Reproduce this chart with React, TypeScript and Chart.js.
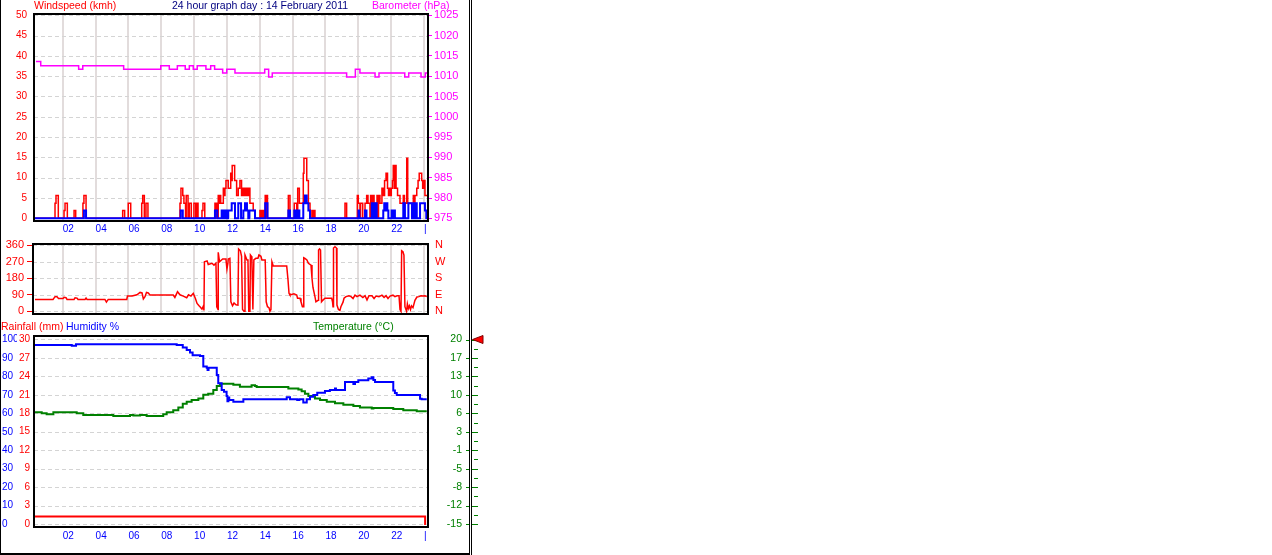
import React, { useEffect, useRef } from "react";
import { Chart, registerables } from "chart.js";

Chart.register(...registerables);

const FONT = '"Liberation Sans", Arial, sans-serif';
const RED = "#ff0000";
const BLUE = "#0000ff";
const MAGENTA = "#ff00ff";
const GREEN = "#008000";
const NAVY = "#000080";

// ---------------- tick labels ----------------
const HOUR_TICKS = [2, 4, 6, 8, 10, 12, 14, 16, 18, 20, 22, 24];
const HOUR_LABELS = ["02", "04", "06", "08", "10", "12", "14", "16", "18", "20", "22", "|"];
const WIND_TICKS = [0, 5, 10, 15, 20, 25, 30, 35, 40, 45, 50];
const BARO_TICKS = [975, 980, 985, 990, 995, 1000, 1005, 1010, 1015, 1020, 1025];
const DIR_TICKS = [0, 90, 180, 270, 360];
const DIR_LABELS = ["N", "E", "S", "W", "N"];
const HUM_TICKS = [0, 10, 20, 30, 40, 50, 60, 70, 80, 90, 100];
const RAIN_TICKS = [0, 3, 6, 9, 12, 15, 18, 21, 24, 27, 30];
const TEMP_TICKS = [-15, -11.5, -8, -4.5, -1, 2.5, 6, 9.5, 13, 16.5, 20];
const TEMP_LABELS = ["-15", "-12", "-8", "-5", "-1", "3", "6", "10", "13", "17", "20"];
const TEMP_MARKER = 20;

// ---------------- series (hour of day, value) ----------------
const windGust: number[][] = [
  [0.25, 0], [1.53, 3.7], [1.59, 5.6], [1.73, 0], [2.08, 1.9], [2.14, 3.7], [2.28, 0],
  [2.69, 1.9], [2.79, 0], [3.23, 3.7], [3.29, 5.6], [3.42, 0], [5.65, 1.9], [5.77, 0],
  [5.99, 3.7], [6.14, 0], [6.81, 3.7], [6.87, 5.6], [6.97, 0], [7.07, 3.7], [7.19, 0],
  [9.14, 3.7], [9.2, 7.4], [9.31, 5.6], [9.38, 3.7], [9.48, 0], [9.52, 5.6], [9.63, 0],
  [9.71, 3.7], [9.83, 0], [9.99, 3.7], [10.1, 0], [10.15, 3.7], [10.24, 0],
  [10.48, 1.9], [10.54, 3.7], [10.65, 0],
  [11.27, 3.7], [11.33, 0], [11.36, 3.7], [11.41, 0], [11.47, 5.6], [11.53, 3.7], [11.58, 5.6],
  [11.62, 3.7], [11.78, 7.4], [11.84, 5.6], [11.88, 7.4], [11.94, 9.3], [12.08, 7.4],
  [12.23, 11.1], [12.29, 9.3], [12.32, 13.0], [12.47, 9.3], [12.59, 5.6], [12.69, 7.4],
  [12.79, 9.3], [12.89, 5.6], [12.96, 7.4], [13.01, 5.6], [13.06, 7.4], [13.11, 5.6],
  [13.16, 7.4], [13.21, 5.6], [13.26, 7.4], [13.31, 5.6], [13.36, 7.4], [13.4, 3.7],
  [13.6, 1.9], [13.71, 0],
  [14.01, 1.9], [14.07, 0], [14.11, 1.9], [14.17, 0], [14.21, 1.9], [14.27, 0],
  [14.33, 5.6], [14.39, 0], [14.43, 5.6], [14.47, 0],
  [15.74, 5.6], [15.84, 0], [16.1, 3.7], [16.25, 0], [16.31, 7.4], [16.41, 3.7],
  [16.65, 11.1], [16.69, 14.8], [16.86, 9.3], [16.96, 3.7], [17.06, 1.9], [17.12, 0],
  [17.22, 1.9], [17.28, 0], [17.31, 1.9], [17.36, 0],
  [19.19, 3.7], [19.29, 0], [19.94, 5.6], [20.0, 3.7], [20.1, 0], [20.14, 3.7], [20.27, 0],
  [20.41, 3.7], [20.51, 5.6], [20.59, 3.7], [20.71, 0], [20.75, 5.6], [20.82, 3.7],
  [20.88, 5.6], [20.96, 0], [21.0, 3.7], [21.12, 0], [21.14, 5.6], [21.2, 0], [21.23, 5.6],
  [21.32, 3.7], [21.44, 7.4], [21.52, 5.6], [21.6, 9.3], [21.69, 11.1], [21.78, 7.4],
  [21.84, 5.6], [21.89, 7.4], [21.95, 5.6], [22.01, 7.4], [22.08, 9.3], [22.13, 13.0],
  [22.19, 7.4], [22.25, 13.0], [22.3, 7.4], [22.39, 5.6], [22.54, 3.7], [22.74, 5.6],
  [22.81, 3.7], [22.95, 14.8], [23.01, 3.7], [23.35, 5.6], [23.41, 3.7], [23.45, 5.6],
  [23.56, 7.4], [23.64, 9.3], [23.71, 11.1], [23.86, 9.3], [23.92, 7.4], [23.98, 9.3],
  [24.06, 5.6], [24.19, 5.6],
];

const windAverage: number[][] = [
  [0.25, 0], [3.29, 1.9], [3.42, 0], [9.18, 1.9], [9.31, 0], [11.27, 1.9], [11.41, 0],
  [11.68, 1.9], [11.78, 0], [11.88, 1.9], [11.98, 0], [12.08, 1.9], [12.29, 3.7], [12.49, 0],
  [12.69, 3.7], [12.86, 0], [13.0, 1.9], [13.1, 3.7], [13.22, 1.9], [13.3, 0], [13.37, 1.9],
  [13.71, 0], [14.33, 3.7], [14.47, 0], [15.74, 1.9], [15.84, 0], [16.1, 1.9], [16.2, 0],
  [16.31, 1.9], [16.41, 0], [16.65, 3.7], [16.75, 5.6], [16.86, 3.7], [16.96, 1.9], [17.06, 0],
  [20.01, 1.9], [20.06, 0], [20.41, 1.9], [20.5, 0], [20.82, 3.7], [20.92, 0], [21.02, 3.7],
  [21.12, 0], [21.52, 1.9], [21.58, 3.7], [21.64, 1.9], [21.71, 3.7], [21.77, 1.9], [21.83, 0],
  [22.03, 1.9], [22.13, 0], [22.16, 1.9], [22.23, 0], [22.74, 3.7], [22.84, 0], [23.05, 3.7],
  [23.27, 0], [23.35, 3.7], [23.41, 0], [23.45, 3.7], [23.56, 0], [23.76, 3.7], [24.06, 1.9],
  [24.14, 0], [24.19, 0],
];

const barometer: number[][] = [
  [0.37, 1013.6], [0.66, 1012.6], [2.97, 1011.7], [3.22, 1012.6], [5.71, 1011.7], [7.97, 1012.6],
  [8.49, 1011.7], [8.98, 1012.6], [9.46, 1011.7], [9.71, 1012.6], [9.95, 1011.7], [10.19, 1012.6],
  [10.72, 1011.7], [11.01, 1012.6], [11.25, 1011.7], [11.74, 1010.8], [11.99, 1011.7],
  [12.49, 1010.8], [14.3, 1011.7], [14.54, 1009.8], [14.76, 1010.8], [19.29, 1009.8],
  [19.82, 1011.7], [20.1, 1010.8], [21.02, 1009.8], [21.26, 1010.8], [22.83, 1009.8],
  [23.07, 1010.8], [23.82, 1009.8], [24.08, 1010.8], [24.19, 1010.8],
];

const windDirection: number[][] = [
  [0.31, 65], [1.41, 65], [1.53, 80], [1.65, 80], [1.74, 70], [2.02, 70], [2.08, 76], [2.2, 74],
  [2.26, 65], [2.69, 65], [2.75, 74], [2.87, 72], [2.93, 65], [3.36, 65], [3.42, 72], [3.48, 65],
  [4.57, 65], [4.66, 50], [4.77, 65], [5.9, 65], [5.94, 83], [6.22, 83], [6.52, 90], [6.71, 103],
  [6.83, 100], [6.91, 67], [7.01, 80], [7.1, 103], [7.21, 100], [7.31, 89], [8.73, 89], [8.83, 76],
  [8.99, 107], [9.14, 90], [9.34, 83], [9.55, 74], [9.66, 90], [9.81, 83], [9.95, 98], [10.08, 70],
  [10.18, 43], [10.3, 30], [10.36, 25], [10.48, 12], [10.57, 30], [10.6, 5], [10.63, 270],
  [10.79, 275], [10.86, 255], [11.09, 262], [11.21, 252], [11.33, 262], [11.38, 25], [11.46, 10],
  [11.47, 322], [11.55, 270], [11.74, 285], [11.94, 285], [12.0, 230], [12.06, 262], [12.08, 285],
  [12.18, 289], [12.24, 52], [12.34, 30], [12.43, 45], [12.55, 35], [12.67, 34], [12.71, 340],
  [12.82, 330], [12.89, 300], [12.95, 10], [13.04, 0], [13.1, 307], [13.22, 280], [13.28, 280],
  [13.33, 0], [13.4, 0], [13.43, 307], [13.49, 300], [13.52, 280], [13.58, 10], [13.64, 280],
  [13.76, 289], [13.89, 289], [13.95, 307], [14.07, 300], [14.13, 280], [14.33, 280], [14.39, 52],
  [14.47, 25], [14.56, 20], [14.62, 0], [14.68, 10], [14.74, 270], [14.82, 247], [15.64, 247],
  [15.72, 171], [15.78, 98], [15.84, 89], [16.08, 95], [16.25, 89], [16.3, 71], [16.45, 71],
  [16.51, 52], [16.6, 25], [16.65, 25], [16.68, 292], [16.75, 289], [16.87, 280], [16.96, 262],
  [17.12, 252], [17.18, 180], [17.24, 130], [17.36, 80], [17.42, 52], [17.55, 60], [17.58, 334],
  [17.64, 340], [17.7, 334], [17.76, 52], [17.85, 61], [17.97, 71], [18.38, 71], [18.43, 52],
  [18.46, 25], [18.49, 345], [18.58, 352], [18.67, 345], [18.7, 34], [18.79, 10], [18.88, 5],
  [18.94, 25], [19.07, 50], [19.13, 71], [19.25, 80], [19.43, 85], [19.56, 80], [19.68, 70],
  [19.8, 88], [19.92, 80], [20.1, 88], [20.28, 75], [20.41, 85], [20.53, 62], [20.65, 85],
  [20.83, 85], [20.96, 70], [21.08, 83], [21.26, 80], [21.44, 88], [21.57, 75], [21.69, 85],
  [21.81, 70], [21.93, 83], [22.11, 88], [22.23, 80], [22.36, 85], [22.48, 85], [22.54, 10],
  [22.6, 0], [22.64, 330], [22.72, 325], [22.78, 307], [22.84, 25], [22.94, 0], [22.99, 40],
  [23.05, 15], [23.11, 30], [23.18, 10], [23.24, 30], [23.33, 20], [23.45, 60], [23.57, 78],
  [23.69, 80], [23.82, 85], [23.94, 83], [24.06, 85], [24.17, 80],
];

const humidity: number[][] = [
  [0.31, 97.0], [2.55, 96.6], [2.81, 97.4], [8.94, 97.0], [9.31, 95.6], [9.55, 94.3], [9.75, 92.9],
  [9.91, 91.4], [10.36, 91.0], [10.56, 85.3], [10.77, 84.7], [10.82, 83.5], [10.88, 84.7],
  [11.38, 80.8], [11.47, 76.3], [11.68, 72.6], [11.82, 71.7], [11.98, 69.4], [12.03, 66.5],
  [12.09, 68.5], [12.14, 67.2], [12.39, 66.3], [13.0, 67.6], [15.64, 68.7], [15.84, 67.6],
  [16.28, 67.2], [16.41, 67.6], [16.65, 65.8], [16.86, 67.6], [17.06, 69.0], [17.26, 69.9],
  [17.5, 71.2], [17.97, 72.1], [18.27, 72.6], [18.58, 73.5], [18.64, 72.6], [19.19, 77.0],
  [19.7, 75.9], [19.8, 77.0], [20.0, 77.9], [20.61, 78.8], [20.82, 79.5], [20.92, 78.0],
  [21.02, 77.0], [22.13, 72.3], [22.23, 71.0], [22.34, 69.9], [23.76, 67.9], [23.86, 67.6],
  [24.17, 67.6],
];

const temperature: number[][] = [
  [0.31, 6.2], [0.72, 6.0], [1.02, 5.8], [1.43, 6.2], [2.85, 6.0], [3.25, 5.7], [5.08, 5.5],
  [6.1, 5.7], [6.3, 5.6], [6.71, 5.7], [7.11, 5.5], [8.12, 5.8], [8.33, 6.2], [8.73, 6.6],
  [9.04, 7.1], [9.31, 7.8], [9.55, 8.2], [9.85, 8.5], [10.26, 8.8], [10.56, 9.5], [10.86, 9.7],
  [11.17, 10.4], [11.38, 11.2], [11.58, 11.6], [12.39, 11.4], [12.79, 11.05], [13.5, 11.3],
  [13.71, 11.2], [13.81, 11.0], [15.74, 10.7], [16.35, 10.5], [16.55, 10.2], [16.75, 9.7],
  [16.96, 9.3], [17.36, 8.8], [17.67, 8.5], [18.08, 8.2], [18.58, 7.9], [19.09, 7.6],
  [19.7, 7.4], [20.1, 7.1], [20.82, 6.9], [20.92, 7.0], [22.13, 6.8], [22.74, 6.6],
  [23.56, 6.4], [24.17, 6.4],
];

const rainfall: number[][] = [
  [0.31, 1.2], [24.07, 0], [24.12, 0],
];

// ---------------- helpers ----------------
const toPoints = (rows: number[][]) => rows.map(([x, y]) => ({ x, y }));
const fixedTicks = (values: number[]) => (axis: any) => {
  axis.ticks = values.map((value) => ({ value }));
};
const clearPadding = (s: any) => {
  s.paddingTop = 0;
  s.paddingBottom = 0;
  s.paddingLeft = 0;
  s.paddingRight = 0;
};

function xAxis(min: number, max: number, display: boolean, height: number, padding: number) {
  return {
    type: "linear",
    position: "bottom",
    display,
    min,
    max,
    bounds: "data",
    afterBuildTicks: fixedTicks(HOUR_TICKS),
    afterFit: (s: any) => {
      s.height = height;
      clearPadding(s);
    },
    ticks: {
      color: BLUE,
      font: { family: FONT, size: 10 },
      padding,
      align: "start",
      autoSkip: false,
      maxRotation: 0,
      minRotation: 0,
      callback: (_v: any, i: number) => HOUR_LABELS[i],
    },
    grid: { display: false, drawTicks: false },
    border: { display: false },
  };
}

function yAxis(o: {
  position: string;
  min: number;
  max: number;
  ticks: number[];
  labels?: string[];
  color: string;
  size: number;
  width: number;
  padding: number;
  crossAlign?: string;
  tickLength?: number;
  weight?: number;
}) {
  return {
    type: "linear",
    position: o.position,
    min: o.min,
    max: o.max,
    bounds: "data",
    weight: o.weight ?? 0,
    afterBuildTicks: fixedTicks(o.ticks),
    afterFit: (s: any) => {
      s.width = o.width;
      clearPadding(s);
    },
    ticks: {
      color: o.color,
      font: { family: FONT, size: o.size },
      padding: o.padding,
      crossAlign: o.crossAlign ?? "near",
      autoSkip: false,
      callback: (v: any, i: number) => (o.labels ? o.labels[i] : String(v)),
    },
    grid: o.tickLength
      ? {
          display: true,
          drawOnChartArea: false,
          drawTicks: true,
          tickLength: o.tickLength,
          color: o.color,
          tickColor: o.color,
          lineWidth: 1,
        }
      : { display: false, drawTicks: false },
    border: { display: false },
  };
}

interface PanelText {
  text: string;
  x: number;
  y: number;
  color: string;
}

function panelPlugin(
  yId: string,
  yTicks: number[],
  vertical: boolean,
  texts: PanelText[],
  extra?: (chart: any) => void
) {
  return {
    id: "panel-" + yId,
    beforeDatasetsDraw(chart: any) {
      const { ctx, chartArea: a } = chart;
      const xs = chart.scales.x;
      const ys = chart.scales[yId];
      ctx.save();
      if (vertical) {
        ctx.strokeStyle = "#e2dcdc";
        ctx.lineWidth = 2;
        for (const h of HOUR_TICKS) {
          const x = Math.round(xs.getPixelForValue(h));
          ctx.beginPath();
          ctx.moveTo(x, a.top);
          ctx.lineTo(x, a.bottom);
          ctx.stroke();
        }
      }
      ctx.strokeStyle = "#d4d4d4";
      ctx.lineWidth = 1;
      ctx.setLineDash([4, 3]);
      for (const v of yTicks) {
        const y = Math.round(ys.getPixelForValue(v)) + 0.5;
        ctx.beginPath();
        ctx.moveTo(a.left, y);
        ctx.lineTo(a.right, y);
        ctx.stroke();
      }
      ctx.restore();
    },
    afterDatasetsDraw(chart: any) {
      const { ctx, chartArea: a } = chart;
      ctx.save();
      ctx.strokeStyle = "#000";
      ctx.lineWidth = 2;
      ctx.strokeRect(a.left, a.top, a.right - a.left, a.bottom - a.top);
      ctx.restore();
    },
    afterDraw(chart: any) {
      const ctx = chart.ctx;
      ctx.save();
      ctx.font = `10.5px ${FONT}`;
      ctx.textBaseline = "middle";
      ctx.textAlign = "left";
      for (const t of texts) {
        ctx.fillStyle = t.color;
        ctx.fillText(t.text, t.x, t.y);
      }
      ctx.restore();
      if (extra) extra(chart);
    },
  };
}

const baseOptions = {
  animation: false,
  responsive: false,
  maintainAspectRatio: false,
  devicePixelRatio: 1,
  events: [],
  plugins: { legend: { display: false }, tooltip: { enabled: false }, title: { display: false } },
  elements: { point: { radius: 0 }, line: { tension: 0 } },
};

function topConfig(): any {
  return {
    type: "line",
    data: {
      datasets: [
        {
          label: "Average windspeed",
          data: toPoints(windAverage),
          yAxisID: "yWind",
          borderColor: BLUE,
          borderWidth: 2,
          stepped: true,
          pointRadius: 0,
          fill: false,
        },
        {
          label: "Gust",
          data: toPoints(windGust),
          yAxisID: "yWind",
          borderColor: RED,
          borderWidth: 1.5,
          stepped: true,
          pointRadius: 0,
          fill: false,
        },
        {
          label: "Barometer",
          data: toPoints(barometer),
          yAxisID: "yBaro",
          borderColor: MAGENTA,
          borderWidth: 1.5,
          stepped: true,
          pointRadius: 0,
          fill: false,
        },
      ],
    },
    options: {
      ...baseOptions,
      layout: { padding: { top: 14, left: 0, right: 0, bottom: 0 } },
      scales: {
        x: xAxis(0.25, 24.245, true, 15, 2),
        yWind: yAxis({
          position: "left", min: -0.665, max: 50.32, ticks: WIND_TICKS, color: RED,
          size: 10, width: 34, padding: 7,
        }),
        yBaro: yAxis({
          position: "right", min: 974.335, max: 1025.32, ticks: BARO_TICKS, color: MAGENTA,
          size: 11, width: 38, padding: 2, tickLength: 4,
        }),
      },
    },
    plugins: [
      panelPlugin("yWind", WIND_TICKS, true, [
        { text: "Windspeed (kmh)", x: 34, y: 6.5, color: RED },
        { text: "24 hour graph day : 14 February 2011", x: 172, y: 6.5, color: NAVY },
        { text: "Barometer (hPa)", x: 372, y: 6.5, color: MAGENTA },
      ]),
    ],
  };
}

function midConfig(): any {
  return {
    type: "line",
    data: {
      datasets: [
        {
          label: "Wind direction",
          data: toPoints(windDirection),
          yAxisID: "yDir",
          borderColor: RED,
          borderWidth: 1.5,
          pointRadius: 0,
          fill: false,
        },
      ],
    },
    options: {
      ...baseOptions,
      layout: { padding: { top: 8, left: 0, right: 0, bottom: 6 } },
      scales: {
        x: xAxis(0.189, 24.245, false, 0, 0),
        yDir: yAxis({
          position: "left", min: -14.7, max: 367.1, ticks: DIR_TICKS, color: RED,
          size: 11, width: 33, padding: 3, tickLength: 6,
        }),
        yCompass: yAxis({
          position: "right", min: -14.7, max: 367.1, ticks: DIR_TICKS, labels: DIR_LABELS,
          color: RED, size: 11, width: 38, padding: 7,
        }),
      },
    },
    plugins: [panelPlugin("yDir", DIR_TICKS, true, [])],
  };
}

const tempDecor = (chart: any) => {
  const s = chart.scales.yTemp;
  const ctx = chart.ctx;
  ctx.save();
  ctx.strokeStyle = GREEN;
  ctx.lineWidth = 1;
  TEMP_TICKS.forEach((v, i) => {
    const y = Math.round(s.getPixelForValue(v)) + 0.5;
    ctx.beginPath();
    ctx.moveTo(466, y);
    ctx.lineTo(469, y);
    ctx.moveTo(472, y);
    ctx.lineTo(478, y);
    ctx.stroke();
    if (i < TEMP_TICKS.length - 1) {
      const ym = Math.round(s.getPixelForValue((v + TEMP_TICKS[i + 1]) / 2)) + 0.5;
      ctx.beginPath();
      ctx.moveTo(474, ym);
      ctx.lineTo(478, ym);
      ctx.stroke();
    }
  });
  const yt = s.getPixelForValue(TEMP_MARKER);
  ctx.beginPath();
  ctx.moveTo(472.5, yt);
  ctx.lineTo(483, yt - 4);
  ctx.lineTo(483, yt + 4);
  ctx.closePath();
  ctx.fillStyle = RED;
  ctx.fill();
  ctx.strokeStyle = "#800000";
  ctx.stroke();
  ctx.restore();
};

function bottomConfig(): any {
  return {
    type: "line",
    data: {
      datasets: [
        {
          label: "Humidity %",
          data: toPoints(humidity),
          yAxisID: "yHum",
          borderColor: BLUE,
          borderWidth: 2,
          stepped: true,
          pointRadius: 0,
          fill: false,
        },
        {
          label: "Temperature (°C)",
          data: toPoints(temperature),
          yAxisID: "yTemp",
          borderColor: GREEN,
          borderWidth: 2,
          stepped: true,
          pointRadius: 0,
          fill: false,
        },
        {
          label: "Rainfall (mm)",
          data: toPoints(rainfall),
          yAxisID: "yRain",
          borderColor: RED,
          borderWidth: 2,
          stepped: true,
          pointRadius: 0,
          fill: false,
        },
      ],
    },
    options: {
      ...baseOptions,
      layout: { padding: { top: 18, left: 2, right: 28, bottom: 12 } },
      scales: {
        x: xAxis(0.25, 24.245, true, 16, 3),
        yHum: yAxis({
          position: "left", min: -1.626, max: 101.897, ticks: HUM_TICKS, color: BLUE,
          size: 10, width: 15, padding: 0, crossAlign: "far", weight: 2,
        }),
        yRain: yAxis({
          position: "left", min: -0.488, max: 30.569, ticks: RAIN_TICKS, color: RED,
          size: 10, width: 17, padding: 4, weight: 1,
        }),
        yTemp: yAxis({
          position: "right", min: -15.569, max: 20.664, ticks: TEMP_TICKS, labels: TEMP_LABELS,
          color: GREEN, size: 10.5, width: 34, padding: 0, crossAlign: "far",
        }),
      },
    },
    plugins: [
      panelPlugin(
        "yHum",
        HUM_TICKS,
        false,
        [
          { text: "Rainfall (mm)", x: 1, y: 9, color: RED },
          { text: "Humidity %", x: 66, y: 9, color: BLUE },
          { text: "Temperature (°C)", x: 313, y: 9, color: GREEN },
        ],
        tempDecor
      ),
    ],
  };
}

export default function App() {
  const topRef = useRef<HTMLCanvasElement>(null);
  const midRef = useRef<HTMLCanvasElement>(null);
  const botRef = useRef<HTMLCanvasElement>(null);

  useEffect(() => {
    const charts: Chart[] = [];
    if (topRef.current) charts.push(new Chart(topRef.current, topConfig()));
    if (midRef.current) charts.push(new Chart(midRef.current, midConfig()));
    if (botRef.current) charts.push(new Chart(botRef.current, bottomConfig()));
    return () => charts.forEach((c) => c.destroy());
  }, []);

  const line = (left: number, top: number, width: number, height: number) => (
    <div
      style={{ position: "absolute", left, top, width, height, background: "#000", zIndex: 2 }}
    />
  );

  return (
    <div
      style={{
        position: "fixed",
        left: 0,
        top: 0,
        width: 1272,
        height: 555,
        background: "#ffffff",
        overflow: "hidden",
      }}
    >
      <canvas
        ref={topRef}
        width={466}
        height={236}
        style={{ position: "absolute", left: 0, top: 0, width: 466, height: 236 }}
      />
      <canvas
        ref={midRef}
        width={466}
        height={84}
        style={{ position: "absolute", left: 0, top: 236, width: 466, height: 84 }}
      />
      <canvas
        ref={botRef}
        width={490}
        height={237}
        style={{ position: "absolute", left: 0, top: 318, width: 490, height: 237 }}
      />
      {line(0, 0, 1, 555)}
      {line(0, 553, 470, 2)}
      {line(469, 0, 1, 555)}
      {line(471, 0, 1, 555)}
    </div>
  );
}
